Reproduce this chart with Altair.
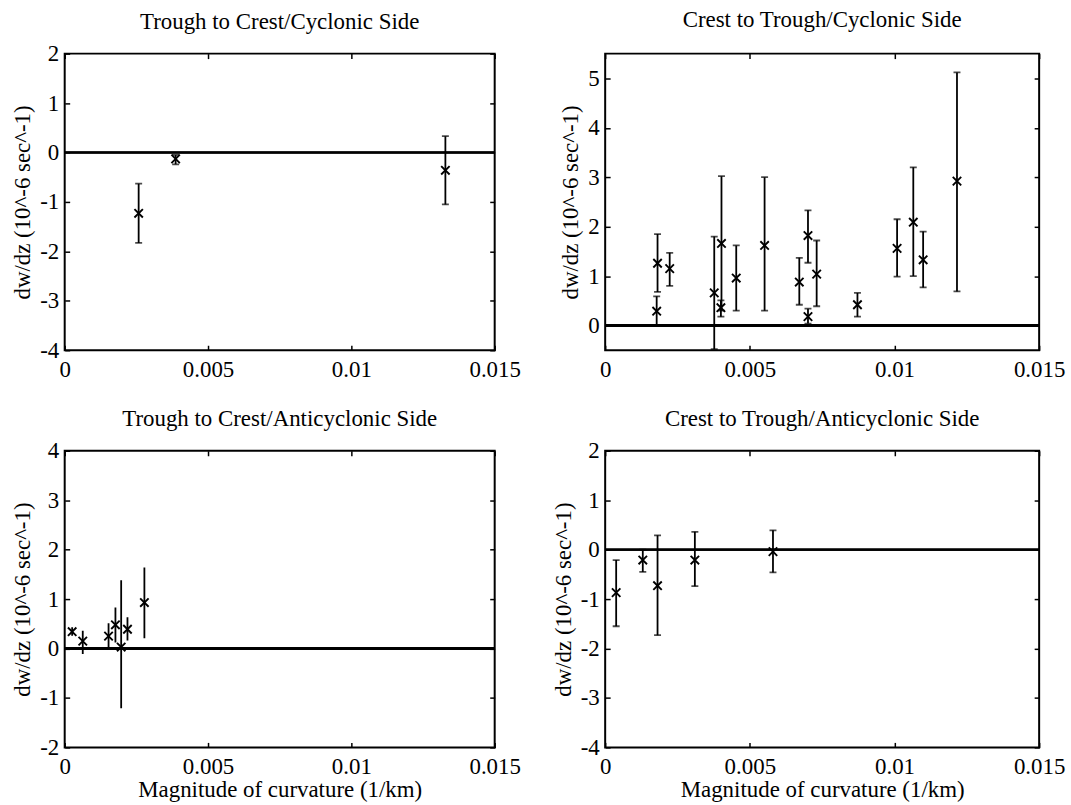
import altair as alt
import pandas as pd

FONT = "Liberation Serif"
FS = 23

x_ticks = [0, 0.005, 0.01, 0.015]

# Panel 1: Trough to Crest / Cyclonic Side
p1_x = [0.00258, 0.00387, 0.01328]
p1_y = [-1.23, -0.13, -0.36]
p1_lo = [-1.83, -0.24, -1.05]
p1_hi = [-0.63, -0.05, 0.33]

# Panel 2: Crest to Trough / Cyclonic Side
p2_x = [0.00178, 0.00181, 0.00223, 0.00377, 0.00400, 0.00402, 0.00453, 0.00551, 0.00671,
        0.00701, 0.00701, 0.00731, 0.00872, 0.01009, 0.01065, 0.01099, 0.01216]
p2_y = [0.29, 1.26, 1.15, 0.66, 0.36, 1.66, 0.96, 1.62, 0.88,
        1.82, 0.18, 1.04, 0.42, 1.56, 2.09, 1.33, 2.92]
p2_lo = [0.0, 0.68, 0.80, -0.48, 0.18, 0.30, 0.30, 0.30, 0.42,
         1.27, 0.04, 0.39, 0.18, 0.99, 1.00, 0.77, 0.69]
p2_hi = [0.59, 1.85, 1.47, 1.80, 0.51, 3.02, 1.62, 3.00, 1.37,
         2.33, 0.34, 1.72, 0.66, 2.15, 3.20, 1.90, 5.12]

# Panel 3: Trough to Crest / Anticyclonic Side
p3_x = [0.00026, 0.00063, 0.00153, 0.00177, 0.00197, 0.00219, 0.00278]
p3_y = [0.34, 0.15, 0.25, 0.48, 0.03, 0.39, 0.93]
p3_lo = [0.26, -0.11, 0.0, 0.12, -1.21, 0.16, 0.21]
p3_hi = [0.43, 0.36, 0.51, 0.83, 1.38, 0.63, 1.64]

# Panel 4: Crest to Trough / Anticyclonic Side
p4_x = [0.00038, 0.00130, 0.00181, 0.00310, 0.00580]
p4_y = [-0.87, -0.21, -0.73, -0.21, -0.04]
p4_lo = [-1.55, -0.45, -1.73, -0.74, -0.46]
p4_hi = [-0.21, 0.0, 0.29, 0.36, 0.39]

XSHAPE = "M-1,-1L1,1M-1,1L1,-1"
TICK = 5
LW = 1.8
Y_TITLE = "dw/dz (10^-6 sec^-1)"
X_TITLE = "Magnitude of curvature (1/km)"


def panel(title, xs, ys, lo, hi, ydom, yticks, caps, xtitle, w, h, tdy):
    df = pd.DataFrame({"x": xs, "y": ys, "lo": lo, "hi": hi, "zv": [0.0] * len(xs)})
    xs_ = alt.Scale(domain=[0, 0.015], nice=False, zero=False)
    ys_ = alt.Scale(domain=ydom, nice=False, zero=False)
    base = alt.Chart(df)

    x_main = alt.Axis(values=x_ticks, labelExpr="'' + datum.value", tickSize=0, domain=False,
                      grid=False, labelPadding=8, labelFont=FONT, labelFontSize=FS,
                      labelColor="black", labelFlush=False, labelOverlap=False,
                      titleFont=FONT, titleFontSize=FS, titleFontWeight="normal",
                      titleColor="black", titlePadding=0)
    y_main = alt.Axis(values=yticks, labelExpr="'' + datum.value", tickSize=0, domain=False,
                      grid=False, labelPadding=6, labelFont=FONT, labelFontSize=FS,
                      labelColor="black", labelFlush=False, labelOverlap=False,
                      titleFont=FONT, titleFontSize=FS, titleFontWeight="normal",
                      titleColor="black", titlePadding=5)
    xt = X_TITLE if xtitle else ""

    def X(field):
        return alt.X(field + ":Q", scale=xs_, axis=x_main, title=xt)

    def Y(field):
        return alt.Y(field + ":Q", scale=ys_, axis=y_main, title=Y_TITLE)

    zero = base.mark_rule(color="black", strokeWidth=LW).encode(y=Y("zv"))
    bars = base.mark_rule(color="black", strokeWidth=LW, clip=True).encode(
        x=X("x"), y=Y("lo"), y2="hi:Q")
    pts = base.mark_point(shape=XSHAPE, size=72, filled=False, color="black",
                          strokeWidth=1.9, opacity=1).encode(x=X("x"), y=Y("y"))
    layers = [zero, bars, pts]
    if caps:
        for col in ["lo", "hi"]:
            layers.append(base.mark_tick(orient="horizontal", size=7, thickness=LW,
                                         color="black", clip=True).encode(
                x=X("x"), y=Y(col)))
    inner = alt.layer(*layers)

    def tick_axis(orient, vals):
        return alt.Axis(orient=orient, values=vals, labels=False, domain=False, grid=False,
                        tickSize=TICK, offset=-TICK, tickColor="black", tickWidth=1.5)

    tlayers = [inner]
    for xo, yo in [("bottom", "left"), ("top", "right")]:
        tlayers.append(base.mark_point(opacity=0).encode(
            x=alt.X("x:Q", scale=xs_, axis=tick_axis(xo, x_ticks), title=""),
            y=alt.Y("y:Q", scale=ys_, axis=tick_axis(yo, yticks), title=""),
        ))

    return alt.layer(*tlayers).resolve_axis(x="independent", y="independent").properties(
        width=w, height=h,
        title=alt.TitleParams(title, font=FONT, fontSize=FS, fontWeight="normal",
                              color="black", anchor="middle", offset=9, dy=tdy),
    )


W1, W2, H = 432, 436, 298

c1 = panel("Trough to Crest/Cyclonic Side", p1_x, p1_y, p1_lo, p1_hi, [-4, 2],
           [-4, -3, -2, -1, 0, 1, 2], True, False, W1, H, 0)
c2 = panel("Crest to Trough/Cyclonic Side", p2_x, p2_y, p2_lo, p2_hi, [-0.5, 5.5],
           [0, 1, 2, 3, 4, 5], True, False, W2, H, -12)
c3 = panel("Trough to Crest/Anticyclonic Side", p3_x, p3_y, p3_lo, p3_hi, [-2, 4],
           [-2, -1, 0, 1, 2, 3, 4], False, True, W1, H, 0)
c4 = panel("Crest to Trough/Anticyclonic Side", p4_x, p4_y, p4_lo, p4_hi, [-4, 2],
           [-4, -3, -2, -1, 0, 1, 2], True, True, W2, H, 0)

chart = alt.concat(c1, c2, c3, c4, columns=2, spacing={"row": 101, "column": 111},
                   bounds="flush").configure_view(
    stroke="black", strokeWidth=2
).properties(background="white", padding={"left": 10, "top": 6, "right": 5, "bottom": 0})

chart.save("out.html", embed_options={"renderer": "svg", "actions": False})
